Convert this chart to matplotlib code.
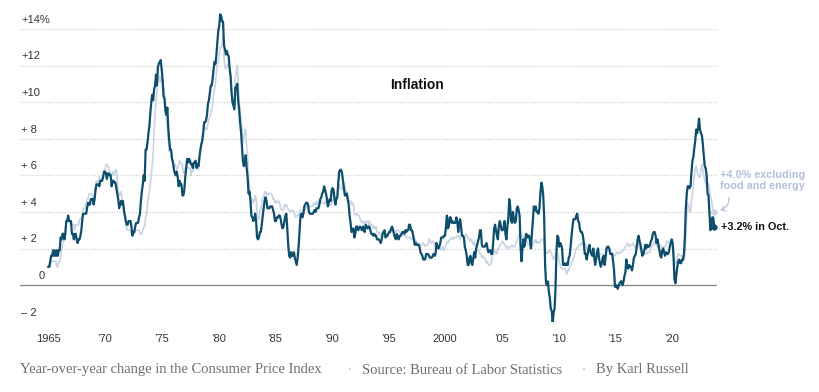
import numpy as np
import matplotlib
matplotlib.use("Agg")
import matplotlib.pyplot as plt

# Year-over-year CPI change, monthly, Jan 1965 - Oct 2023
start_year = 1965
headline = [
    1.0, 1.0, 1.3, 1.6, 1.6, 1.9, 1.6, 1.9, 1.6, 1.9, 1.6, 1.9,  # 1965
    1.9, 2.6, 2.5, 2.8, 2.8, 2.5, 2.8, 3.5, 3.5, 3.8, 3.5, 3.5,  # 1966
    3.5, 2.8, 2.8, 2.5, 2.8, 2.8, 2.5, 2.3, 2.5, 2.5, 2.7, 3.0,  # 1967
    3.6, 3.9, 3.9, 3.9, 3.9, 4.2, 4.5, 4.4, 4.4, 4.7, 4.7, 4.7,  # 1968
    4.4, 4.7, 5.2, 5.5, 5.5, 5.5, 5.4, 5.7, 5.7, 5.7, 5.9, 6.2,  # 1969
    6.2, 6.1, 5.8, 6.1, 6.1, 6.0, 6.0, 5.4, 5.7, 5.7, 5.6, 5.6,  # 1970
    5.3, 5.0, 4.7, 4.2, 4.4, 4.6, 4.4, 4.6, 4.1, 3.8, 3.5, 3.3,  # 1971
    3.3, 3.5, 3.5, 3.5, 3.2, 2.7, 2.9, 2.9, 3.2, 3.4, 3.4, 3.4,  # 1972
    3.7, 3.9, 4.6, 5.1, 5.5, 6.0, 5.7, 7.4, 7.4, 7.8, 8.3, 8.7,  # 1973
    9.4, 10.0, 10.4, 10.1, 10.7, 10.9, 11.5, 10.9, 11.9, 12.1, 12.2, 12.3,  # 1974
    11.8, 11.2, 10.3, 10.2, 9.5, 9.3, 9.7, 8.6, 7.9, 7.4, 7.4, 6.9,  # 1975
    6.7, 6.3, 6.1, 6.0, 6.2, 5.9, 5.4, 5.7, 5.5, 5.5, 4.9, 4.9,  # 1976
    5.2, 5.9, 6.4, 6.9, 6.7, 6.9, 6.8, 6.6, 6.6, 6.4, 6.7, 6.7,  # 1977
    6.8, 6.4, 6.6, 6.5, 7.0, 7.4, 7.7, 7.9, 8.3, 8.9, 8.9, 9.0,  # 1978
    9.3, 9.9, 10.1, 10.5, 10.9, 10.9, 11.3, 11.8, 12.2, 12.1, 12.6, 13.3,  # 1979
    13.9, 14.2, 14.8, 14.7, 14.4, 14.4, 13.1, 12.9, 12.6, 12.8, 12.6, 12.5,  # 1980
    11.8, 11.4, 10.5, 10.0, 9.8, 9.6, 10.8, 10.8, 11.0, 10.1, 9.6, 8.9,  # 1981
    8.4, 7.6, 6.8, 6.5, 6.7, 7.1, 6.4, 5.9, 5.0, 5.1, 4.6, 3.8,  # 1982
    3.7, 3.5, 3.6, 3.9, 3.5, 2.6, 2.5, 2.6, 2.9, 2.9, 3.3, 3.8,  # 1983
    4.2, 4.6, 4.8, 4.6, 4.2, 4.2, 4.2, 4.3, 4.3, 4.3, 4.1, 3.9,  # 1984
    3.5, 3.5, 3.7, 3.7, 3.8, 3.8, 3.6, 3.3, 3.1, 3.2, 3.5, 3.8,  # 1985
    3.9, 3.1, 2.2, 1.6, 1.5, 1.8, 1.6, 1.6, 1.8, 1.5, 1.3, 1.1,  # 1986
    1.5, 2.1, 3.0, 3.8, 3.9, 3.7, 3.9, 4.3, 4.4, 4.5, 4.5, 4.4,  # 1987
    4.0, 3.9, 3.9, 3.9, 3.9, 4.0, 4.1, 4.0, 4.2, 4.2, 4.2, 4.4,  # 1988
    4.7, 4.8, 5.0, 5.1, 5.4, 5.2, 5.0, 4.7, 4.3, 4.5, 4.7, 4.6,  # 1989
    5.2, 5.3, 5.2, 4.7, 4.4, 4.7, 4.8, 5.6, 6.2, 6.3, 6.3, 6.1,  # 1990
    5.7, 5.3, 4.9, 4.9, 5.0, 4.7, 4.4, 3.8, 3.4, 2.9, 3.0, 3.1,  # 1991
    2.6, 2.8, 3.2, 3.2, 3.0, 3.1, 3.2, 3.1, 3.0, 3.2, 3.0, 2.9,  # 1992
    3.3, 3.2, 3.1, 3.2, 3.2, 3.0, 2.8, 2.8, 2.7, 2.8, 2.7, 2.7,  # 1993
    2.5, 2.5, 2.5, 2.4, 2.3, 2.5, 2.8, 2.9, 3.0, 2.6, 2.7, 2.7,  # 1994
    2.8, 2.9, 2.9, 3.1, 3.2, 3.0, 2.8, 2.6, 2.5, 2.8, 2.6, 2.5,  # 1995
    2.7, 2.7, 2.8, 2.9, 2.9, 2.8, 3.0, 2.9, 3.0, 3.0, 3.3, 3.3,  # 1996
    3.0, 3.0, 2.8, 2.5, 2.2, 2.3, 2.2, 2.2, 2.2, 2.1, 1.8, 1.7,  # 1997
    1.6, 1.4, 1.4, 1.4, 1.7, 1.7, 1.7, 1.6, 1.5, 1.5, 1.5, 1.6,  # 1998
    1.7, 1.6, 1.7, 2.3, 2.1, 2.0, 2.1, 2.3, 2.6, 2.6, 2.6, 2.7,  # 1999
    2.7, 3.2, 3.8, 3.1, 3.2, 3.7, 3.7, 3.4, 3.5, 3.4, 3.4, 3.4,  # 2000
    3.7, 3.5, 2.9, 3.3, 3.6, 3.2, 2.7, 2.7, 2.6, 2.1, 1.9, 1.6,  # 2001
    1.1, 1.1, 1.5, 1.6, 1.2, 1.1, 1.5, 1.8, 1.5, 2.0, 2.2, 2.4,  # 2002
    2.6, 3.0, 3.0, 2.2, 2.1, 2.1, 2.1, 2.2, 2.3, 2.0, 1.8, 1.9,  # 2003
    1.9, 1.7, 1.7, 2.3, 3.1, 3.3, 3.0, 2.7, 2.5, 3.2, 3.5, 3.3,  # 2004
    3.0, 3.0, 3.1, 3.5, 2.8, 2.5, 3.2, 3.6, 4.7, 4.3, 3.5, 3.4,  # 2005
    4.0, 3.6, 3.4, 3.5, 4.2, 4.3, 4.1, 3.8, 2.1, 1.3, 2.0, 2.5,  # 2006
    2.1, 2.4, 2.8, 2.6, 2.7, 2.7, 2.4, 2.0, 2.8, 3.5, 4.3, 4.1,  # 2007
    4.3, 4.0, 4.0, 3.9, 4.2, 5.0, 5.6, 5.4, 4.9, 3.7, 1.1, 0.1,  # 2008
    0.0, 0.2, -0.4, -0.7, -1.3, -1.4, -2.1, -1.5, -1.3, -0.2, 1.8, 2.7,  # 2009
    2.6, 2.1, 2.3, 2.2, 2.0, 1.1, 1.2, 1.1, 1.1, 1.2, 1.1, 1.5,  # 2010
    1.6, 2.1, 2.7, 3.2, 3.6, 3.6, 3.6, 3.8, 3.9, 3.5, 3.4, 3.0,  # 2011
    2.9, 2.9, 2.7, 2.3, 1.7, 1.7, 1.4, 1.7, 2.0, 2.2, 1.8, 1.7,  # 2012
    1.6, 2.0, 1.5, 1.1, 1.4, 1.8, 2.0, 1.5, 1.2, 1.0, 1.2, 1.5,  # 2013
    1.6, 1.1, 1.5, 2.0, 2.1, 2.1, 2.0, 1.7, 1.7, 1.7, 1.3, 0.8,  # 2014
    -0.1, 0.0, -0.1, -0.2, 0.0, 0.1, 0.2, 0.2, 0.0, 0.2, 0.5, 0.7,  # 2015
    1.4, 1.0, 0.9, 1.1, 1.0, 1.0, 0.8, 1.1, 1.5, 1.6, 1.7, 2.1,  # 2016
    2.5, 2.7, 2.4, 2.2, 1.9, 1.6, 1.7, 1.9, 2.2, 2.0, 2.2, 2.1,  # 2017
    2.1, 2.2, 2.4, 2.5, 2.8, 2.9, 2.9, 2.7, 2.3, 2.5, 2.2, 1.9,  # 2018
    1.6, 1.5, 1.9, 2.0, 1.8, 1.6, 1.8, 1.7, 1.7, 1.8, 2.1, 2.3,  # 2019
    2.5, 2.3, 1.5, 0.3, 0.1, 0.6, 1.0, 1.3, 1.4, 1.2, 1.2, 1.4,  # 2020
    1.4, 1.7, 2.6, 4.2, 5.0, 5.4, 5.4, 5.3, 5.4, 6.2, 6.8, 7.0,  # 2021
    7.5, 7.9, 8.5, 8.3, 8.6, 9.1, 8.5, 8.3, 8.2, 7.7, 7.1, 6.5,  # 2022
    6.4, 6.0, 5.0, 4.9, 4.0, 3.0, 3.2, 3.7, 3.7, 3.2,  # 2023
]
core = [
    1.0, 1.0, 1.0, 1.3, 1.3, 1.3, 1.3, 1.3, 1.3, 1.0, 1.0, 1.3,  # 1965
    1.3, 1.6, 1.9, 2.2, 2.5, 2.8, 3.1, 3.4, 3.6, 3.6, 3.6, 3.3,  # 1966
    3.3, 3.3, 3.3, 3.3, 3.0, 3.3, 3.3, 3.3, 3.3, 3.6, 3.6, 3.6,  # 1967
    3.9, 4.2, 4.2, 4.2, 4.5, 4.7, 4.7, 5.0, 5.0, 5.0, 5.0, 4.9,  # 1968
    4.6, 4.9, 5.4, 5.7, 5.6, 5.6, 5.9, 5.8, 5.8, 5.8, 6.0, 6.1,  # 1969
    6.3, 6.6, 6.6, 6.5, 6.4, 6.2, 6.0, 6.0, 6.2, 6.0, 6.1, 6.3,  # 1970
    6.3, 5.8, 5.2, 4.9, 4.9, 5.1, 4.8, 4.5, 4.3, 3.9, 3.6, 3.1,  # 1971
    3.0, 3.0, 3.0, 3.0, 2.8, 2.8, 3.0, 2.8, 3.0, 3.0, 3.0, 3.0,  # 1972
    3.0, 2.8, 2.8, 2.8, 3.0, 3.2, 3.2, 3.7, 3.9, 4.4, 4.9, 5.1,  # 1973
    5.6, 6.0, 6.5, 7.2, 8.4, 9.3, 10.0, 10.6, 11.4, 11.1, 11.4, 11.1,  # 1974
    11.3, 11.2, 10.8, 10.5, 9.8, 9.2, 8.5, 7.9, 7.3, 7.5, 7.1, 6.9,  # 1975
    6.7, 6.4, 6.6, 6.5, 6.3, 6.4, 6.6, 6.8, 6.7, 6.6, 6.6, 6.1,  # 1976
    6.1, 6.4, 6.4, 6.4, 6.4, 6.4, 6.4, 6.0, 6.3, 6.2, 6.4, 6.5,  # 1977
    6.4, 6.4, 6.4, 6.3, 6.9, 7.4, 7.7, 8.1, 8.5, 8.7, 8.6, 8.5,  # 1978
    8.5, 8.8, 9.1, 9.2, 9.4, 9.6, 9.8, 10.4, 10.7, 11.1, 11.6, 12.1,  # 1979
    12.2, 12.5, 13.0, 13.0, 13.1, 13.6, 12.4, 11.9, 11.8, 12.0, 12.0, 12.2,  # 1980
    11.9, 11.6, 10.8, 9.9, 10.0, 10.1, 11.3, 11.6, 12.0, 11.2, 10.1, 9.5,  # 1981
    9.1, 8.4, 7.8, 8.0, 8.5, 8.5, 7.6, 7.1, 5.8, 5.5, 4.9, 4.5,  # 1982
    4.7, 4.5, 4.6, 4.9, 4.8, 3.7, 3.7, 3.6, 4.1, 4.1, 4.5, 4.8,  # 1983
    4.8, 5.1, 5.1, 5.0, 4.9, 5.0, 5.0, 5.0, 5.0, 4.9, 4.7, 4.7,  # 1984
    4.5, 4.6, 4.5, 4.5, 4.6, 4.5, 4.2, 4.1, 4.1, 4.1, 4.4, 4.3,  # 1985
    4.4, 4.3, 4.1, 4.1, 4.0, 4.0, 4.1, 4.1, 4.0, 3.8, 3.7, 3.8,  # 1986
    3.8, 3.8, 4.0, 4.1, 3.8, 3.8, 3.9, 4.0, 4.2, 4.3, 4.3, 4.2,  # 1987
    4.3, 4.3, 4.3, 4.3, 4.3, 4.5, 4.4, 4.4, 4.6, 4.4, 4.5, 4.7,  # 1988
    4.6, 4.5, 4.5, 4.5, 4.5, 4.4, 4.6, 4.5, 4.3, 4.4, 4.4, 4.4,  # 1989
    4.4, 4.6, 4.7, 4.7, 4.8, 4.9, 5.0, 5.5, 5.5, 5.3, 5.3, 5.2,  # 1990
    5.6, 5.6, 5.3, 5.1, 5.1, 4.8, 4.6, 4.6, 4.6, 4.4, 4.5, 4.4,  # 1991
    3.9, 3.8, 3.9, 3.9, 3.8, 3.8, 3.6, 3.5, 3.4, 3.5, 3.4, 3.3,  # 1992
    3.5, 3.5, 3.5, 3.3, 3.5, 3.3, 3.3, 3.3, 3.1, 3.2, 3.1, 3.2,  # 1993
    2.9, 2.8, 2.9, 2.8, 2.7, 2.9, 2.9, 2.9, 3.0, 2.8, 2.8, 2.6,  # 1994
    2.9, 3.0, 3.0, 3.1, 3.1, 3.0, 3.0, 2.9, 2.9, 3.0, 3.0, 3.0,  # 1995
    2.9, 2.9, 2.8, 2.7, 2.7, 2.7, 2.7, 2.6, 2.6, 2.6, 2.6, 2.6,  # 1996
    2.5, 2.5, 2.5, 2.7, 2.5, 2.4, 2.4, 2.3, 2.2, 2.3, 2.2, 2.2,  # 1997
    2.2, 2.3, 2.2, 2.1, 2.2, 2.2, 2.2, 2.5, 2.5, 2.3, 2.3, 2.4,  # 1998
    2.4, 2.1, 2.1, 2.2, 2.0, 2.1, 2.1, 1.9, 2.0, 2.0, 2.1, 1.9,  # 1999
    2.0, 2.2, 2.4, 2.3, 2.4, 2.5, 2.5, 2.6, 2.6, 2.5, 2.6, 2.6,  # 2000
    2.6, 2.7, 2.7, 2.6, 2.5, 2.7, 2.7, 2.7, 2.6, 2.6, 2.8, 2.7,  # 2001
    2.6, 2.6, 2.4, 2.5, 2.5, 2.3, 2.2, 2.4, 2.2, 2.2, 2.0, 1.9,  # 2002
    1.9, 1.7, 1.7, 1.5, 1.6, 1.5, 1.5, 1.3, 1.2, 1.3, 1.1, 1.1,  # 2003
    1.1, 1.2, 1.6, 1.8, 1.7, 1.9, 1.8, 1.7, 2.0, 2.0, 2.2, 2.2,  # 2004
    2.3, 2.4, 2.3, 2.2, 2.2, 2.0, 2.1, 2.1, 2.0, 2.1, 2.1, 2.2,  # 2005
    2.1, 2.1, 2.1, 2.3, 2.4, 2.6, 2.7, 2.8, 2.9, 2.7, 2.6, 2.6,  # 2006
    2.7, 2.7, 2.5, 2.3, 2.2, 2.2, 2.2, 2.1, 2.1, 2.2, 2.3, 2.4,  # 2007
    2.5, 2.3, 2.4, 2.3, 2.3, 2.4, 2.5, 2.5, 2.5, 2.2, 2.0, 1.8,  # 2008
    1.7, 1.8, 1.8, 1.9, 1.8, 1.7, 1.5, 1.4, 1.5, 1.7, 1.7, 1.8,  # 2009
    1.6, 1.3, 1.1, 0.9, 0.9, 0.9, 0.9, 0.9, 0.8, 0.6, 0.8, 0.8,  # 2010
    1.0, 1.1, 1.2, 1.3, 1.5, 1.6, 1.8, 2.0, 2.0, 2.1, 2.2, 2.2,  # 2011
    2.3, 2.2, 2.3, 2.3, 2.3, 2.2, 2.1, 1.9, 2.0, 2.0, 1.9, 1.9,  # 2012
    1.9, 2.0, 1.9, 1.7, 1.7, 1.6, 1.7, 1.8, 1.7, 1.7, 1.7, 1.7,  # 2013
    1.6, 1.6, 1.7, 1.8, 2.0, 1.9, 1.9, 1.7, 1.7, 1.8, 1.7, 1.6,  # 2014
    1.6, 1.7, 1.8, 1.8, 1.7, 1.8, 1.8, 1.8, 1.9, 1.9, 2.0, 2.1,  # 2015
    2.2, 2.3, 2.2, 2.1, 2.2, 2.2, 2.2, 2.3, 2.2, 2.1, 2.1, 2.2,  # 2016
    2.3, 2.2, 2.0, 1.9, 1.7, 1.7, 1.7, 1.7, 1.7, 1.8, 1.7, 1.8,  # 2017
    1.8, 1.8, 2.1, 2.1, 2.2, 2.3, 2.4, 2.2, 2.2, 2.1, 2.2, 2.2,  # 2018
    2.2, 2.1, 2.0, 2.1, 2.0, 2.1, 2.2, 2.4, 2.4, 2.3, 2.3, 2.3,  # 2019
    2.3, 2.4, 2.1, 1.4, 1.2, 1.2, 1.6, 1.7, 1.7, 1.6, 1.6, 1.6,  # 2020
    1.4, 1.3, 1.6, 3.0, 3.8, 4.5, 4.3, 4.0, 4.0, 4.6, 4.9, 5.5,  # 2021
    6.0, 6.4, 6.5, 6.2, 6.0, 5.9, 5.9, 6.3, 6.6, 6.3, 6.0, 5.7,  # 2022
    5.6, 5.5, 5.6, 5.5, 5.3, 4.8, 4.7, 4.3, 4.1, 4.0,  # 2023
]

y_ticks = [-2, 0, 2, 4, 6, 8, 10, 12, 14]
y_labels = ["\u2013 2", "0", "+ 2", "+ 4", "+ 6", "+ 8", "+10", "+12", "+14%"]
x_ticks = [1965, 1970, 1975, 1980, 1985, 1990, 1995, 2000, 2005, 2010, 2015, 2020]
x_labels = ["1965", "\u201970", "\u201975", "\u201980", "\u201985", "\u201990",
            "\u201995", "2000", "\u201905", "\u201910", "\u201915", "\u201920"]

dark = "#0d4e6c"
light = "#c9d4e4"
light_text = "#b2c0dc"

t = start_year + np.arange(len(headline)) / 12.0

fig = plt.figure(figsize=(8.2, 3.92), dpi=100)
ax = fig.add_axes([20 / 820, 1 - 321.7 / 392, 697 / 820, 311.1 / 392])
ax.set_xlim(1962.5, 2024.0)
ax.set_ylim(-2, 15)

for v in y_ticks:
    if v == 0:
        ax.axhline(0, color="#8a8a8a", lw=1.0, zorder=1)
    else:
        ax.axhline(v, color="#d0d0d0", lw=0.9, ls=(0, (1, 1.2)), zorder=1)

ax.plot(t, core, color=light, lw=1.2, zorder=2)
ax.plot(t, headline, color=dark, lw=1.6, zorder=3)
ax.plot(t[-1], core[-1], "o", ms=3.5, color=light, zorder=2)
ax.plot(t[-1], headline[-1], "o", ms=3.5, color=dark, zorder=4)

for v, lab in zip(y_ticks, y_labels):
    dx = 13.5 if v == 0 else 1
    ax.annotate(lab, xy=(0, v), xycoords=("axes fraction", "data"),
                xytext=(dx, 3), textcoords="offset points",
                ha="left", va="bottom", fontsize=8, color="#333333",
                family="Liberation Sans")

ax.set_xticks(x_ticks)
ax.set_xticklabels(x_labels, fontsize=8, color="#333333", family="Liberation Sans")
ax.tick_params(axis="x", length=0, pad=9)
ax.set_yticks([])
for s in ax.spines.values():
    s.set_visible(False)

ax.text(1997.5, 10.95, "Inflation", fontsize=10, fontweight="bold",
        family="Liberation Sans", ha="center", va="center", color="#111111")

ax.annotate("+3.2% in Oct.", xy=(t[-1], headline[-1]), xytext=(5, 0),
            textcoords="offset points", ha="left", va="center",
            fontsize=7.8, fontweight="bold", family="Liberation Sans", color="#111111")
ax.text(2024.3, 5.7, "+4.0% excluding\nfood and energy", ha="left", va="center",
        fontsize=7.8, fontweight="bold", family="Liberation Sans", color=light_text,
        linespacing=1.15, clip_on=False)
ax.annotate("", xy=(t[-1] + 0.3, core[-1] + 0.05), xytext=(2025.0, 4.95),
            arrowprops=dict(arrowstyle="->,head_length=0.3,head_width=0.2",
                            color=light_text, lw=0.8,
                            connectionstyle="arc3,rad=-0.5"),
            annotation_clip=False)

fig.text(20 / 820, 1 - 370 / 392, "Year-over-year change in the Consumer Price Index",
         fontsize=10.5, color="#6e6e6e", family="Liberation Serif", va="center")
fig.text(350 / 820, 1 - 370 / 392, "\u2022", fontsize=5, color="#cccccc", va="center", ha="center")
fig.text(362 / 820, 1 - 370 / 392, "Source: Bureau of Labor Statistics",
         fontsize=10.5, color="#6e6e6e", family="Liberation Serif", va="center")
fig.text(584 / 820, 1 - 370 / 392, "\u2022", fontsize=5, color="#cccccc", va="center", ha="center")
fig.text(596 / 820, 1 - 370 / 392, "By Karl Russell",
         fontsize=10.5, color="#6e6e6e", family="Liberation Serif", va="center")

fig.savefig("out.png", dpi=100, facecolor="white")
